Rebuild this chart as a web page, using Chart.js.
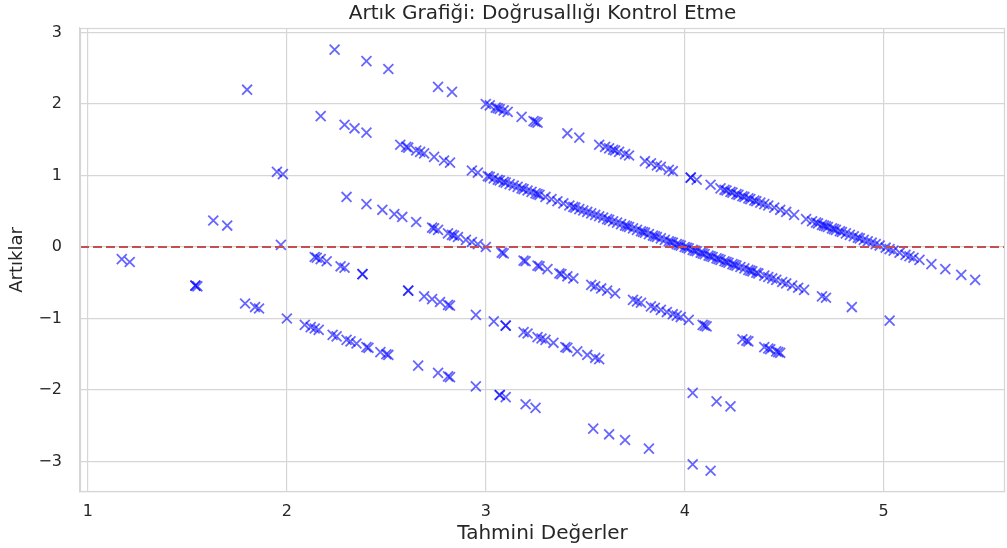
<!DOCTYPE html>
<html>
<head>
<meta charset="utf-8">
<script src="https://cdn.jsdelivr.net/npm/chart.js@4"></script>
<style>
  html, body { margin: 0; padding: 0; background: #ffffff; }
  #wrap { width: 1007px; height: 548px; position: relative; }
</style>
</head>
<body>
<div id="wrap"><canvas id="c"></canvas></div>
<script>
// ---- Data (predicted value, residual) ----
const pred1 = [1.17,1.21,1.54,1.55,1.54,1.79,1.84,1.86,2.00,2.09,2.12,2.14,2.16,2.23,2.25,2.30,2.32,2.35,2.40,2.41,2.47,2.50,2.51,2.66,2.76,2.81,2.82,2.95,3.07,3.07,3.10,3.20,3.25,3.54,3.62,3.70,3.82,4.04,4.13];
const resid1 = [-0.17,-0.21,-0.54,-0.55,-0.54,-0.79,-0.84,-0.86,-1.00,-1.09,-1.12,-1.14,-1.16,-1.23,-1.25,-1.30,-1.32,-1.35,-1.40,-1.41,-1.47,-1.50,-1.51,-1.66,-1.76,-1.81,-1.82,-1.95,-2.07,-2.07,-2.10,-2.20,-2.25,-2.54,-2.62,-2.70,-2.82,-3.04,-3.13];

const pred2 = [1.63,1.70,1.97,2.14,2.15,2.17,2.20,2.27,2.29,2.38,2.38,2.61,2.61,2.69,2.73,2.77,2.81,2.82,2.95,3.04,3.10,3.10,3.19,3.21,3.26,3.28,3.30,3.34,3.40,3.41,3.46,3.51,3.55,3.57,4.04,4.16,4.23];
const resid2 = [0.37,0.30,0.03,-0.14,-0.15,-0.17,-0.20,-0.27,-0.29,-0.38,-0.38,-0.61,-0.61,-0.69,-0.73,-0.77,-0.81,-0.82,-0.95,-1.04,-1.10,-1.10,-1.19,-1.21,-1.26,-1.28,-1.30,-1.34,-1.40,-1.41,-1.46,-1.51,-1.55,-1.57,-2.04,-2.16,-2.23];

const pred3 = [1.95,1.98,2.30,2.40,2.48,2.54,2.58,2.65,2.73,2.74,2.76,2.81,2.83,2.84,2.86,2.90,2.93,2.96,3.00,3.08,3.09,3.19,3.20,3.26,3.27,3.31,3.37,3.38,3.41,3.44,3.53,3.55,3.58,3.61,3.65,3.74,3.76,3.78,3.83,3.85,3.88,3.91,3.94,3.96,3.98,4.02,4.09,4.10,4.11,4.29,4.31,4.32,4.40,4.42,4.43,4.46,4.47,4.48];
const resid3 = [1.05,1.02,0.70,0.60,0.52,0.46,0.42,0.35,0.27,0.26,0.24,0.19,0.17,0.16,0.14,0.10,0.07,0.04,0.00,-0.08,-0.09,-0.19,-0.20,-0.26,-0.27,-0.31,-0.37,-0.38,-0.41,-0.44,-0.53,-0.55,-0.58,-0.61,-0.65,-0.74,-0.76,-0.78,-0.83,-0.85,-0.88,-0.91,-0.94,-0.96,-0.98,-1.02,-1.09,-1.10,-1.11,-1.29,-1.31,-1.32,-1.40,-1.42,-1.43,-1.46,-1.47,-1.48];

const pred4 = [1.80,2.17,2.29,2.34,2.40,2.57,2.60,2.61,2.65,2.67,2.69,2.74,2.79,2.82,2.93,2.96,3.01,3.02,3.04,3.06,3.07,3.09,3.10,3.12,3.14,3.16,3.18,3.19,3.21,3.23,3.25,3.26,3.27,3.30,3.33,3.36,3.39,3.42,3.44,3.45,3.47,3.49,3.51,3.53,3.55,3.57,3.59,3.61,3.62,3.64,3.66,3.68,3.70,3.71,3.72,3.74,3.76,3.78,3.79,3.80,3.82,3.84,3.85,3.86,3.88,3.90,3.92,3.93,3.94,3.96,3.97,3.98,4.00,4.01,4.02,4.04,4.05,4.06,4.08,4.09,4.10,4.12,4.13,4.14,4.16,4.17,4.18,4.20,4.21,4.22,4.24,4.25,4.26,4.28,4.30,4.32,4.33,4.34,4.36,4.37,4.40,4.42,4.44,4.46,4.49,4.51,4.54,4.57,4.60,4.69,4.71,4.84,5.03];
const resid4 = [2.20,1.83,1.71,1.66,1.60,1.43,1.40,1.39,1.35,1.33,1.31,1.26,1.21,1.18,1.07,1.04,0.99,0.98,0.96,0.94,0.93,0.91,0.90,0.88,0.86,0.84,0.82,0.81,0.79,0.77,0.75,0.74,0.73,0.70,0.67,0.64,0.61,0.58,0.56,0.55,0.53,0.51,0.49,0.47,0.45,0.43,0.41,0.39,0.38,0.36,0.34,0.32,0.30,0.29,0.28,0.26,0.24,0.22,0.21,0.20,0.18,0.16,0.15,0.14,0.12,0.10,0.08,0.07,0.06,0.04,0.03,0.02,0.00,-0.01,-0.02,-0.04,-0.05,-0.06,-0.08,-0.09,-0.10,-0.12,-0.13,-0.14,-0.16,-0.17,-0.18,-0.20,-0.21,-0.22,-0.24,-0.25,-0.26,-0.28,-0.30,-0.32,-0.33,-0.34,-0.36,-0.37,-0.40,-0.42,-0.44,-0.46,-0.49,-0.51,-0.54,-0.57,-0.60,-0.69,-0.71,-0.84,-1.03];

const pred5 = [2.24,2.40,2.51,2.76,2.83,3.00,3.02,3.05,3.06,3.07,3.09,3.11,3.18,3.24,3.25,3.26,3.41,3.47,3.57,3.60,3.62,3.64,3.65,3.67,3.70,3.72,3.80,3.83,3.86,3.88,3.92,3.94,4.03,4.03,4.06,4.13,4.18,4.20,4.21,4.23,4.24,4.26,4.27,4.29,4.30,4.32,4.33,4.35,4.36,4.38,4.40,4.42,4.45,4.48,4.51,4.55,4.61,4.64,4.66,4.67,4.69,4.70,4.71,4.72,4.74,4.75,4.76,4.78,4.79,4.81,4.83,4.85,4.87,4.88,4.90,4.92,4.94,4.96,4.98,5.01,5.03,5.05,5.08,5.11,5.13,5.15,5.18,5.24,5.31,5.39,5.46];
const resid5 = [2.76,2.60,2.49,2.24,2.17,2.00,1.98,1.95,1.94,1.93,1.91,1.89,1.82,1.76,1.75,1.74,1.59,1.53,1.43,1.40,1.38,1.36,1.35,1.33,1.30,1.28,1.20,1.17,1.14,1.12,1.08,1.06,0.97,0.97,0.94,0.87,0.82,0.80,0.79,0.77,0.76,0.74,0.73,0.71,0.70,0.68,0.67,0.65,0.64,0.62,0.60,0.58,0.55,0.52,0.49,0.45,0.39,0.36,0.34,0.33,0.31,0.30,0.29,0.28,0.26,0.25,0.24,0.22,0.21,0.19,0.17,0.15,0.13,0.12,0.10,0.08,0.06,0.04,0.02,-0.01,-0.03,-0.05,-0.08,-0.11,-0.13,-0.15,-0.18,-0.24,-0.31,-0.39,-0.46];

const xTicks = [1, 2, 3, 4, 5];
const yTicks = [-3, -2, -1, 0, 1, 2, 3];
const xRange = [0.96, 5.61];
const yRange = [-3.427, 3.063];
const zeroLine = [0, 0];

const titleText = 'Artık Grafiği: Doğrusallığı Kontrol Etme';
const xTitle = 'Tahmini Değerler';
const yTitle = 'Artıklar';

// ---- Build chart ----
const groupsX = [pred1, pred2, pred3, pred4, pred5];
const groupsY = [resid1, resid2, resid3, resid4, resid5];
const points = [];
groupsX.forEach((gx, gi) => gx.forEach((v, i) => points.push({ x: v, y: groupsY[gi][i] })));

const FONT = "'DejaVu Sans', sans-serif";
const GRID = '#d6d6d6';
const TXT = '#262626';

const frame = {
  id: 'frame',
  afterDatasetsDraw(chart) {
    const a = chart.chartArea, ctx = chart.ctx;
    ctx.save();
    ctx.strokeStyle = GRID;
    ctx.lineWidth = 1.2;
    ctx.strokeRect(a.left + 0.5, a.top + 0.5, a.right - a.left - 1, a.bottom - a.top - 1);
    ctx.restore();
  }
};

new Chart(document.getElementById('c'), {
  type: 'scatter',
  data: {
    datasets: [
      {
        type: 'line',
        data: [{ x: xRange[0], y: zeroLine[0] }, { x: xRange[1], y: zeroLine[1] }],
        borderColor: '#C44E52',
        borderWidth: 2,
        borderDash: [9, 4],
        pointRadius: 0,
        order: 0
      },
      {
        data: points,
        pointStyle: 'crossRot',
        pointRadius: 7,
        pointHoverRadius: 7,
        borderWidth: 1.8,
        borderColor: 'rgba(0,0,255,0.6)',
        backgroundColor: 'rgba(0,0,255,0.6)',
        order: 1
      }
    ]
  },
  options: {
    responsive: true,
    maintainAspectRatio: false,
    animation: false,
    events: [],
    layout: { autoPadding: false, padding: { left: 0, right: 2, top: 0, bottom: 0 } },
    plugins: {
      legend: { display: false },
      tooltip: { enabled: false },
      title: {
        display: true,
        text: titleText,
        fullSize: false,
        color: TXT,
        font: { family: FONT, size: 20, weight: 'normal' },
        padding: { top: 2, bottom: 2 }
      }
    },
    scales: {
      x: {
        type: 'linear',
        min: xRange[0],
        max: xRange[1],
        afterBuildTicks: s => { s.ticks = xTicks.map(v => ({ value: v })); },
        afterFit: s => { s.height = 56; },
        grid: { color: GRID, lineWidth: 1.2, drawTicks: false },
        border: { display: true, color: GRID, width: 1.2 },
        ticks: { color: TXT, font: { family: FONT, size: 16 }, padding: 10, maxRotation: 0 },
        title: { display: true, text: xTitle, color: TXT, font: { family: FONT, size: 20 }, padding: { top: 0, bottom: 2 } }
      },
      y: {
        type: 'linear',
        min: yRange[0],
        max: yRange[1],
        afterBuildTicks: s => { s.ticks = yTicks.map(v => ({ value: v })); },
        afterFit: s => { s.width = 80; },
        grid: { color: GRID, lineWidth: 1.2, drawTicks: false },
        border: { display: true, color: GRID, width: 1.2 },
        ticks: {
          color: TXT, font: { family: FONT, size: 16 }, padding: 18,
          callback: v => (v < 0 ? '\u2212' + Math.abs(v) : String(v))
        },
        title: { display: true, text: yTitle, color: TXT, font: { family: FONT, size: 18 }, padding: { top: 7, bottom: 0 } }
      }
    }
  },
  plugins: [frame]
});
</script>
</body>
</html>
